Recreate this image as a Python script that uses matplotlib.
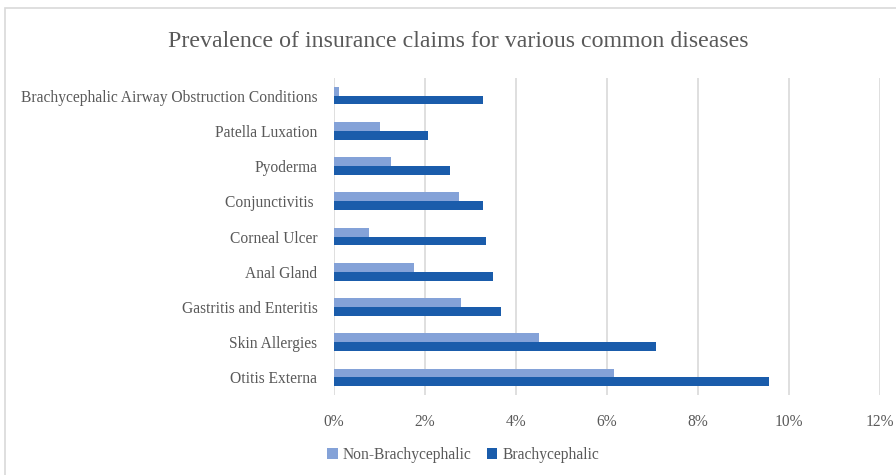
import matplotlib.pyplot as plt
import numpy as np
from matplotlib.patches import Rectangle
from matplotlib.ticker import FuncFormatter

DISEASES = ["Brachycephalic Airway Obstruction Conditions", "Patella Luxation",
            "Pyoderma", "Conjunctivitis ", "Corneal Ulcer", "Anal Gland",
            "Gastritis and Enteritis", "Skin Allergies", "Otitis Externa"]
NON_BRACHY = [0.12, 1.02, 1.25, 2.75, 0.76, 1.76, 2.80, 4.50, 6.15]
BRACHY = [3.27, 2.07, 2.54, 3.27, 3.33, 3.50, 3.68, 7.08, 9.57]
XTICKS = [0, 2, 4, 6, 8, 10, 12]

LIGHT = "#84A2D8"
DARK = "#1A5CAB"
TEXT = "#595959"
GRID = "#D9D9D9"

plt.rcParams["font.family"] = ["Liberation Serif", "DejaVu Serif"]

fig = plt.figure(figsize=(8.96, 4.75), dpi=100)
ax = fig.add_axes([0.3728, 0.1684, 0.6094, 0.6674])

n = len(DISEASES)
y = np.arange(n)[::-1]
h = 0.25
ax.barh(y + h / 2, NON_BRACHY, height=h, color=LIGHT, label="Non-Brachycephalic", zorder=3)
ax.barh(y - h / 2, BRACHY, height=h, color=DARK, label="Brachycephalic", zorder=3)

ax.set_xlim(0, 12)
ax.set_ylim(-0.5, n - 0.5)
ax.set_xticks(XTICKS)
ax.xaxis.set_major_formatter(FuncFormatter(lambda v, p: f"{v:.0f}%"))
ax.set_yticks(y)
ax.set_yticklabels(DISEASES)
ax.tick_params(axis="both", length=0, colors=TEXT, labelsize=11.2)
ax.tick_params(axis="x", pad=14)
ax.tick_params(axis="y", pad=12)
ax.grid(axis="x", color=GRID, lw=1.2, zorder=0)
for s in ax.spines.values():
    s.set_visible(False)

fig.text(0.511, 0.912, "Prevalence of insurance claims for various common diseases",
         ha="center", va="center", fontsize=17.2, color=TEXT)

leg = fig.legend(loc="center left", bbox_to_anchor=(0.349, 0.042), ncol=2, frameon=False,
                 fontsize=11.2, handlelength=0.7, handleheight=0.7, handletextpad=0.3,
                 columnspacing=1.0)
for t in leg.get_texts():
    t.set_color(TEXT)

fig.patches.append(Rectangle((0.006, -0.1), 1.1, 1.083, transform=fig.transFigure,
                             fill=False, edgecolor=GRID, lw=1.2))

fig.savefig("out.png", dpi=100)
